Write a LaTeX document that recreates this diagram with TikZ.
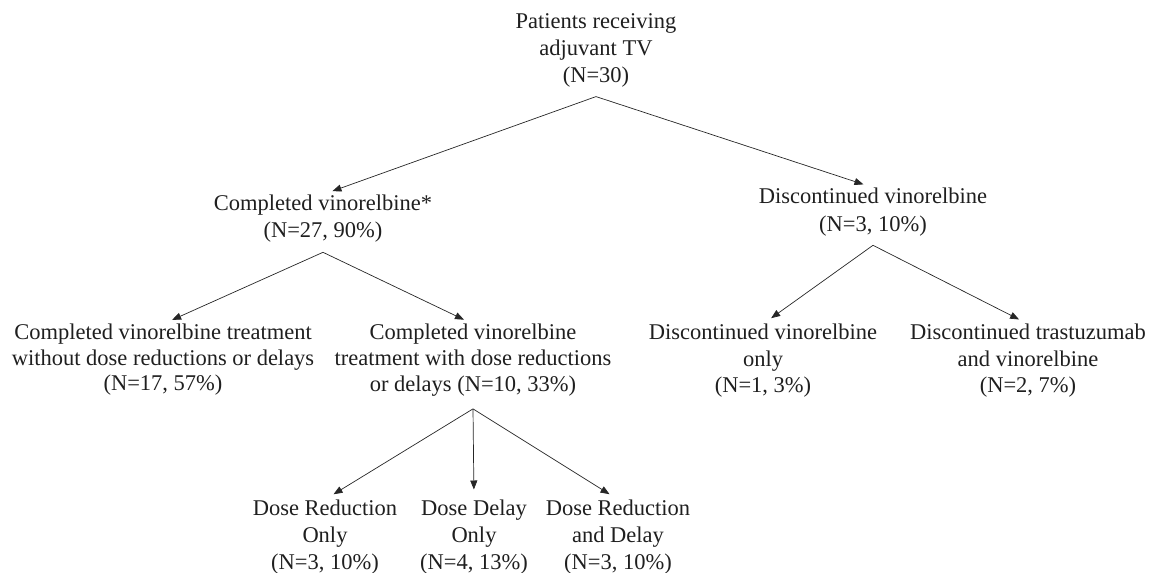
\documentclass[tikz,border=0pt]{standalone}
\usepackage{fontspec}
\setmainfont{Liberation Serif}
\usetikzlibrary{arrows.meta}
\begin{document}
\begin{tikzpicture}[x=1pt,y=-1pt,
  txt/.style={font=\fontsize{22.5}{#1}\selectfont, align=center, inner sep=0pt, anchor=north, text=black!88},
  txt/.default=27,
  arr/.style={draw=black!85, line width=0.7pt, -{Triangle[length=9pt,width=7pt]}, shorten >=10pt}]
\useasboundingbox (0,0) rectangle (1149,573);
\node[txt] (top) at (596,13.5) {Patients receiving\\adjuvant TV\\(N=30)};
\node[txt] (comp) at (323,194.5) {Completed vinorelbine*\\(N=27, 90\%)};
\node[txt=28] (disc) at (873,187.5) {Discontinued vinorelbine\\(N=3, 10\%)};
\node[txt=25.5] (leafa) at (163,324) {Completed vinorelbine treatment\\without dose reductions or delays\\(N=17, 57\%)};
\node[txt=26] (leafb) at (473,324) {Completed vinorelbine\\treatment with dose reductions\\or delays (N=10, 33\%)};
\node[txt=26.5] (leafc) at (763,324) {Discontinued vinorelbine\\only\\(N=1, 3\%)};
\node[txt=26.5] (leafd) at (1028,324) {Discontinued trastuzumab\\and vinorelbine\\(N=2, 7\%)};
\node[txt] (da) at (325,499.5) {Dose Reduction\\Only\\(N=3, 10\%)};
\node[txt] (db) at (474,499.5) {Dose Delay\\Only\\(N=4, 13\%)};
\node[txt] (dc) at (618,499.5) {Dose Reduction\\and Delay\\(N=3, 10\%)};
\coordinate (top-out) at ([yshift=-9pt]top.south);
\coordinate (comp-out) at ([yshift=-10pt]comp.south);
\coordinate (disc-out) at ([yshift=-9pt]disc.south);
\coordinate (leafb-out) at ([yshift=-12pt]leafb.south);
\draw[arr] (top-out) -- (comp.north);
\draw[arr] (top-out) -- (disc.north);
\draw[arr] (comp-out) -- (leafa.north);
\draw[arr] (comp-out) -- (leafb.north);
\draw[arr] (disc-out) -- (leafc.north);
\draw[arr] (disc-out) -- (leafd.north);
\draw[arr] (leafb-out) -- (da.north);
\draw[arr] (leafb-out) -- (db.north);
\draw[arr] (leafb-out) -- (dc.north);
\end{tikzpicture}
\end{document}
